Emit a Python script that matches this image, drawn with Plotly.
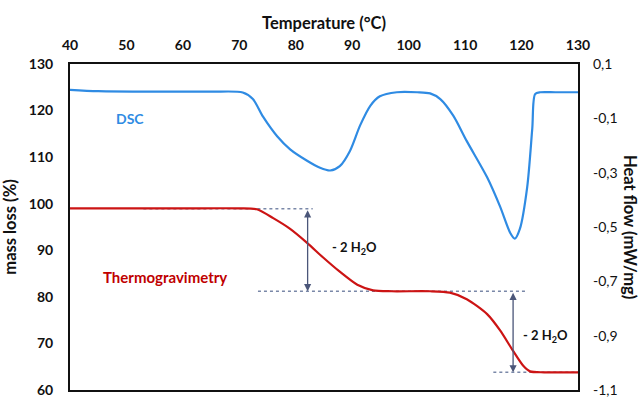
import plotly.graph_objects as go

# DSC trace: temperature (°C) and heat flow (mW/mg)
dsc_temp = [40, 45, 55, 65, 70.6, 72.4, 74.2, 76.7, 79.0, 82.0, 84.3, 86.1, 87.8,
            89.6, 91.4, 93.2, 94.9, 97.9, 101.5, 103.8, 105.6, 107.9, 110.3, 113.9,
            116.2, 118.0, 118.8, 119.7, 121.0, 121.9, 122.4, 123.3, 126, 130]
dsc_flow = [0.005, 0.0, -0.002, -0.002, -0.005, -0.029, -0.094, -0.166, -0.214, -0.256,
            -0.282, -0.292, -0.276, -0.220, -0.126, -0.054, -0.019, -0.004, -0.004,
            -0.008, -0.029, -0.090, -0.184, -0.317, -0.425, -0.522, -0.543, -0.507,
            -0.353, -0.137, -0.011, -0.004, -0.004, -0.004]

# Thermogravimetry trace: temperature (°C) and mass (%)
tg_temp = [40, 50, 60, 70, 73.1, 76.0, 79.0, 82.0, 84.8, 87.8, 90.9, 93.7, 97, 103.8,
           107.3, 110.3, 113.9, 116.2, 118.5, 120.3, 121.5, 124, 130]
tg_mass = [99.0, 99.0, 99.0, 99.0, 98.8, 96.9, 94.6, 91.6, 88.5, 85.4, 82.6, 81.4, 81.2,
           81.2, 80.9, 79.5, 76.3, 72.8, 68.4, 65.2, 64.0, 63.8, 63.8]

# Plateau reference levels (%) and the temperature span of each dotted guide
plateau_levels = [98.9, 81.2, 63.8]
guide_spans = [(53.0, 83.0), (73.3, 120.8), (115.0, 130.0)]

# Mass-loss steps: temperature of the double arrow, levels, label position
step_temps = [82.1, 118.5]
step_from = [98.9, 81.2]
step_to = [81.2, 63.8]
step_label = "- 2 H<sub>2</sub>O"
step_label_pos = [(90.4, 90.5), (124.2, 71.6)]

x_ticks = [40, 50, 60, 70, 80, 90, 100, 110, 120, 130]
left_ticks = [60, 70, 80, 90, 100, 110, 120, 130]
right_ticks = [0.1, -0.1, -0.3, -0.5, -0.7, -0.9, -1.1]
right_ticktext = ["0,1", "-0,1", "-0,3", "-0,5", "-0,7", "-0,9", "-1,1"]

FONT = "Lato"
BLUE = "#2f8be3"
RED = "#cc1414"
GUIDE = "#7a88a8"
ARROW = "#4b5679"
INK = "#111111"

fig = go.Figure()

for (x0, x1), lvl in zip(guide_spans, plateau_levels):
    fig.add_trace(go.Scatter(x=[x0, x1], y=[lvl, lvl], mode="lines",
                             line=dict(color=GUIDE, width=1.5, dash="dot"),
                             hoverinfo="skip", showlegend=False))

fig.add_trace(go.Scatter(x=tg_temp, y=tg_mass, mode="lines",
                         line=dict(color=RED, width=2.2, shape="spline", smoothing=0.7),
                         showlegend=False, name="Thermogravimetry"))

fig.add_trace(go.Scatter(x=dsc_temp, y=dsc_flow, mode="lines", yaxis="y2",
                         line=dict(color=BLUE, width=2.2, shape="spline", smoothing=0.8),
                         showlegend=False, name="DSC"))

annotations = []
for t, a, b in zip(step_temps, step_from, step_to):
    annotations.append(dict(x=t, y=b, ax=t, ay=a, xref="x", yref="y", axref="x", ayref="y",
                            showarrow=True, arrowhead=2, arrowsize=1.1, arrowwidth=1.3,
                            arrowside="end+start", arrowcolor=ARROW, text=""))
for (tx, ty) in step_label_pos:
    annotations.append(dict(x=tx, y=ty, xref="x", yref="y", showarrow=False,
                            text="<b>" + step_label + "</b>",
                            font=dict(family=FONT, size=13, color=INK)))

annotations.append(dict(x=50.6, y=118.3, xref="x", yref="y", showarrow=False,
                        text="<b>DSC</b>", font=dict(family=FONT, size=14, color=BLUE)))
annotations.append(dict(x=56.9, y=84.3, xref="x", yref="y", showarrow=False,
                        text="<b>Thermogravimetry</b>",
                        font=dict(family=FONT, size=15, color="#c00000")))
annotations.append(dict(x=1.0, xref="paper", xanchor="left", xshift=40,
                        y=0.5, yref="paper", showarrow=False, textangle=90,
                        text="<b>Heat flow (mW/mg)</b>",
                        font=dict(family=FONT, size=16.5, color=INK)))

tick_font = dict(family=FONT, size=14, color=INK, weight="bold")

fig.update_layout(
    width=639, height=406,
    margin=dict(l=70, r=61, t=64, b=8),
    plot_bgcolor="white", paper_bgcolor="white",
    font=dict(family=FONT, color=INK),
    xaxis=dict(side="top", range=[40, 130], tickvals=x_ticks, ticks="",
               showgrid=False, zeroline=False, showline=True, mirror=True,
               linecolor=INK, linewidth=2, tickfont=tick_font, ticklabelstandoff=6,
               title=dict(text="<b>Temperature (°C)</b>", standoff=3,
                          font=dict(family=FONT, size=16.5, color=INK))),
    yaxis=dict(range=[60, 130], tickvals=left_ticks, ticks="", showgrid=False,
               zeroline=False, showline=True, mirror=True, linecolor=INK,
               linewidth=2, tickfont=tick_font, ticklabelstandoff=12,
               title=dict(text="<b>mass loss (%)</b>", standoff=8,
                          font=dict(family=FONT, size=16.5, color=INK))),
    yaxis2=dict(range=[-1.1, 0.1], overlaying="y", side="right", tickvals=right_ticks,
                ticktext=right_ticktext, ticks="", showgrid=False, zeroline=False,
                showline=False, tickfont=dict(family=FONT, size=14, color=INK),
                ticklabelstandoff=14),
    annotations=annotations,
)

fig.write_html("out.html")
